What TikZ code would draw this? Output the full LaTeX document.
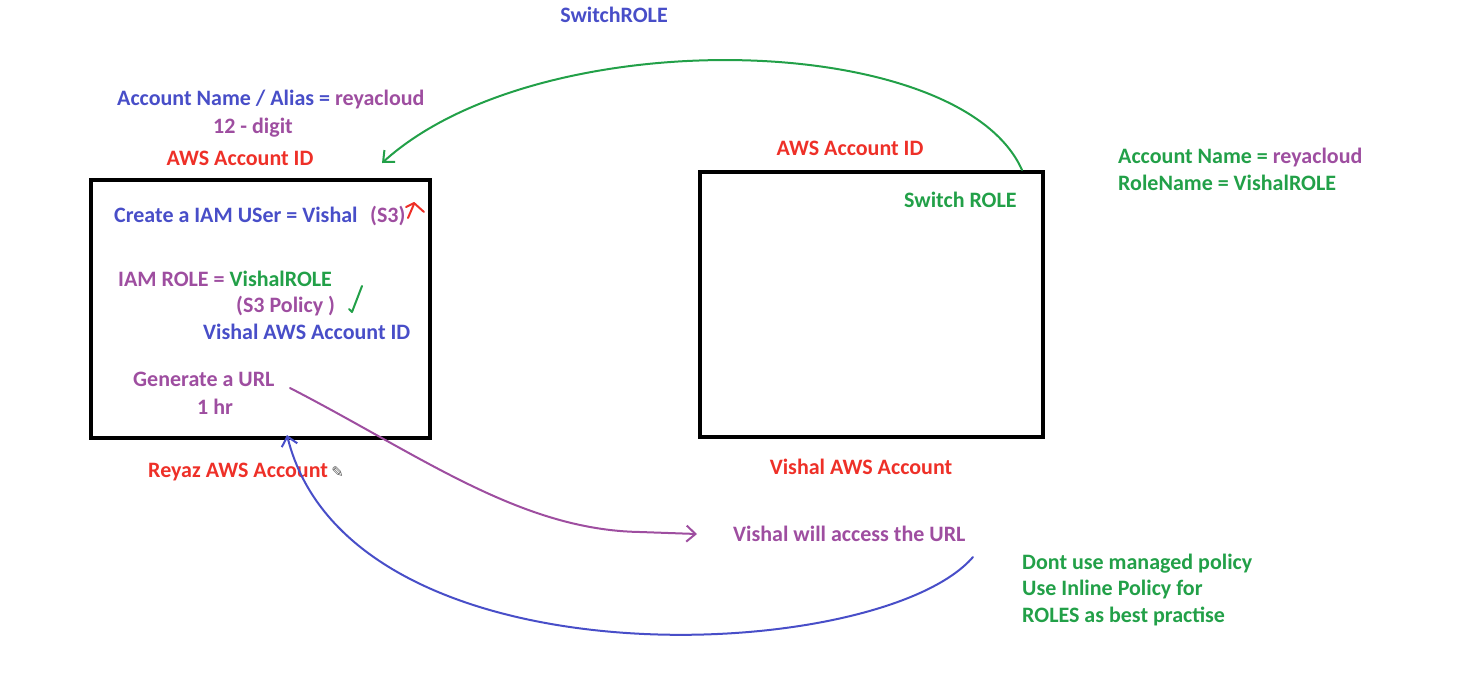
\documentclass[tikz,border=0pt]{standalone}
\usepackage{fontspec}
\setmainfont{Carlito}
\usetikzlibrary{arrows.meta}
\definecolor{cblue}{RGB}{72,78,200}
\definecolor{cpurp}{RGB}{158,78,160}
\definecolor{cred}{RGB}{238,48,40}
\definecolor{cgreen}{RGB}{34,160,72}
\newfontfamily\djv{DejaVu Sans}
\tikzset{
  lbl/.style={inner sep=0pt, anchor=base west, font=\bfseries\fontsize{22}{26}\selectfont},
  clbl/.style={lbl, anchor=base},
  acct/.style={draw=black, line width=3.6pt},
  hand/.style={line width=2pt, line cap=round, line join=round},
  tip/.style={-{Straight Barb[length=9pt,width=16pt,line width=2pt]}}
}
\begin{document}
\begin{tikzpicture}[x=1pt,y=-1pt]
\useasboundingbox (0,0) rectangle (1458,678);
% boxes
\draw[acct] (91,180) rectangle (430,438);
\draw[acct] (700,172) rectangle (1043,437);
% top texts
\node[clbl, text=cblue] (sw) at (614,22) {SwitchROLE};
\node[lbl, text=cblue] (alias) at (117,105) {Account Name / Alias = \textcolor{cpurp}{reyacloud}};
\node[clbl, text=cpurp] (digit) at (253,133) {12 - digit};
\node[clbl, text=cred] (aidL) at (240,165) {AWS Account ID};
\node[clbl, text=cred] (aidR) at (850,155) {AWS Account ID};
% left box content
\node[lbl, text=cblue] (user) at (114,222) {Create a IAM USer = Vishal};
\node[lbl, text=cpurp] (s3) at (370,222) {(S3)};
\node[lbl, text=cpurp] (role) at (118,286) {IAM ROLE = \textcolor{cgreen}{VishalROLE}};
\node[lbl, text=cpurp] (pol) at (236,312) {(S3 Policy )};
\node[lbl, text=cblue] (vid) at (203,339) {Vishal AWS Account ID};
\node[lbl, text=cpurp] (gen) at (133,386) {Generate a URL};
\node[lbl, text=cpurp] (hr) at (197,414) {1 hr};
\node[lbl, text=cred] (reyaz) at (148,477) {Reyaz AWS Account};
\node[inner sep=0pt, anchor=base west, text=black!65, font=\djv\fontsize{15}{15}\selectfont] (pen) at ([xshift=3pt]reyaz.base east) {✎};
% right box content
\node[lbl, text=cgreen] (swr) at (904,207) {Switch ROLE};
\node[clbl, text=cred] (vacc) at (861,474) {Vishal AWS Account};
\node[lbl, text=cgreen] (an) at (1118,163) {Account Name = \textcolor{cpurp}{reyacloud}};
\node[lbl, text=cgreen] (rn) at (1118,190) {RoleName = VishalROLE};
\node[lbl, text=cpurp] (acc) at (733,541) {Vishal will access the URL};
\node[lbl, text=cgreen] (n1) at (1022,569) {Dont use managed policy};
\node[lbl, text=cgreen] (n2) at (1022,595) {Use Inline Policy for};
\node[lbl, text=cgreen] (n3) at (1022,622) {ROLES as best practise};
% marks
\draw[hand, cred] (408,218) -- (414,204);
\draw[hand, cred] (406,207) -- (414,203) -- (424,212);
\draw[hand, cgreen] (349,309) -- (352,312) -- (362,286);
% connectors
\coordinate (gs) at (1022,170);
\coordinate (ge) at (382,163);
\draw[hand, cgreen, tip] (gs) .. controls (960,30) and (540,20) .. (ge);
\coordinate (ps) at (290,388);
\coordinate (pe) at (697,534);
\draw[hand, cpurp, tip] (ps) .. controls (420,455) and (520,530) .. (640,532) -- (pe);
\coordinate (bs) at (973,557);
\coordinate (be) at (287,435);
\draw[hand, cblue, tip] (bs) .. controls (880,665) and (350,690) .. (be);
\end{tikzpicture}
\end{document}
